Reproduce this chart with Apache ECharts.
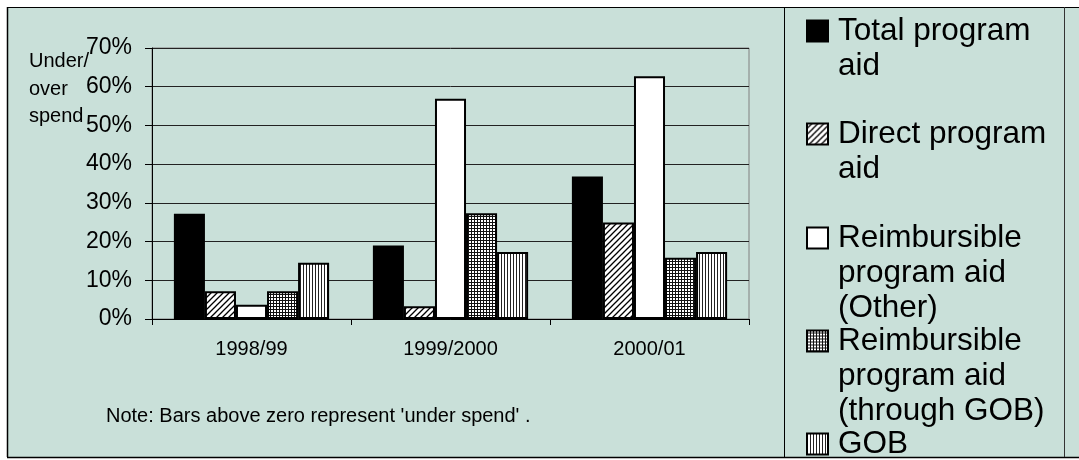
<!DOCTYPE html>
<html>
<head>
<meta charset="utf-8">
<script src="https://cdn.jsdelivr.net/npm/echarts@6/dist/echarts.min.js"></script>
<style>
html,body{margin:0;padding:0;background:#fff;}
#chart{width:1079px;height:460px;}
</style>
</head>
<body>
<div id="chart"></div>
<script>
// ---- data ----
var categories = ['1998/99', '1999/2000', '2000/01'];
var seriesNames = ['Total program aid', 'Direct program aid', 'Reimbursible program aid (Other)', 'Reimbursible program aid (through GOB)', 'GOB'];
var legendLabels = ['Total program\naid', 'Direct program\naid', 'Reimbursible\nprogram aid\n(Other)', 'Reimbursible\nprogram aid\n(through GOB)', 'GOB'];
var totalProgramAid = [27.2, 19.0, 36.8];
var directProgramAid = [7.2, 3.3, 24.9];
var reimbOther = [3.7, 56.9, 62.7];
var reimbGOB = [7.2, 27.3, 15.8];
var gob = [14.5, 17.3, 17.3];
var yTicks = { min: 0, max: 70, interval: 10 };
var yTitle = 'Under/\nover\nspend';
var noteText = "Note: Bars above zero represent 'under spend' .";

// ---- patterns ----
function makePattern(kind) {
  var c = document.createElement('canvas');
  var ctx;
  if (kind === 'diag') {
    c.width = 6; c.height = 6; ctx = c.getContext('2d');
    ctx.fillStyle = '#fff'; ctx.fillRect(0, 0, 6, 6);
    ctx.strokeStyle = '#000'; ctx.lineWidth = 1.3;
    ctx.beginPath();
    ctx.moveTo(0, 6); ctx.lineTo(6, 0);
    ctx.moveTo(-3, 3); ctx.lineTo(3, -3);
    ctx.moveTo(3, 9); ctx.lineTo(9, 3);
    ctx.stroke();
  } else if (kind === 'grid') {
    c.width = 3; c.height = 3; ctx = c.getContext('2d');
    ctx.fillStyle = '#fff'; ctx.fillRect(0, 0, 3, 3);
    ctx.fillStyle = '#111'; ctx.fillRect(0, 0, 3, 1); ctx.fillRect(0, 0, 1, 3);
  } else if (kind === 'vert') {
    c.width = 3; c.height = 3; ctx = c.getContext('2d');
    ctx.fillStyle = '#fff'; ctx.fillRect(0, 0, 3, 3);
    ctx.fillStyle = '#222'; ctx.fillRect(0, 0, 1, 3);
  }
  return { image: c, repeat: 'repeat' };
}

var fills = ['#000000', makePattern('diag'), '#ffffff', makePattern('grid'), makePattern('vert')];
var values = [totalProgramAid, directProgramAid, reimbOther, reimbGOB, gob];

var FONT = "'Liberation Sans', Arial, sans-serif";
var BG = '#C9E0D9';

var series = seriesNames.map(function (n, i) {
  return {
    name: n,
    type: 'bar',
    data: values[i],
    barGap: '0%',
    barCategoryGap: '22%',
    itemStyle: { color: fills[i], borderColor: '#000', borderWidth: 2 },
    emphasis: { disabled: true }
  };
});

// legend layout: centre of each entry's first line
var legendCentres = [30, 133, 237, 340, 443];
var LH = 35;
var ICON = 21;
var ICON_BOX = 26;
var legends = seriesNames.map(function (n, i) {
  var lines = legendLabels[i].split('\n').length;
  var h = lines * LH;
  var y0 = (LH - ICON) / 2;
  // square sits beside the first line; the extra move-tos keep the icon box as tall as the text
  var iconPath = 'path://M0,0 M0,' + y0 + ' h' + ICON + ' v' + ICON + ' h-' + ICON + ' Z M' + ICON_BOX + ',' + h;
  return {
    data: [{ name: n, icon: iconPath }],
    orient: 'vertical',
    left: 806,
    top: legendCentres[i] - LH / 2,
    padding: 0,
    itemGap: 0,
    itemWidth: ICON_BOX,
    itemHeight: h,
    selectedMode: false,
    formatter: function () { return legendLabels[i]; },
    textStyle: { fontFamily: FONT, fontSize: 31.5, lineHeight: LH, color: '#000' }
  };
});

var chart = echarts.init(document.getElementById('chart'), null, { renderer: 'canvas' });
chart.setOption({
  backgroundColor: '#ffffff',
  animation: false,
  textStyle: { fontFamily: FONT },
  graphic: [
    { type: 'rect', z: -10, shape: { x: 7, y: 7, width: 1072, height: 450 }, style: { fill: BG } },
    { type: 'line', z: -5, shape: { x1: 7, y1: 7.5, x2: 1079, y2: 7.5 }, style: { stroke: '#000', lineWidth: 1 } },
    { type: 'line', z: -5, shape: { x1: 7.5, y1: 7, x2: 7.5, y2: 457 }, style: { stroke: '#000', lineWidth: 1.5 } },
    { type: 'line', z: -5, shape: { x1: 7, y1: 457.5, x2: 1079, y2: 457.5 }, style: { stroke: '#000', lineWidth: 1.5 } },
    { type: 'line', z: -5, shape: { x1: 784.5, y1: 7, x2: 784.5, y2: 457 }, style: { stroke: '#000', lineWidth: 1 } },
    { type: 'line', z: -5, shape: { x1: 1064.5, y1: 7, x2: 1064.5, y2: 457 }, style: { stroke: '#333', lineWidth: 1 } },
    { type: 'text', left: 29, top: 48, style: { text: yTitle, font: '20px ' + FONT, lineHeight: 27.5, fill: '#000' } },
    { type: 'text', left: 106, top: 406, style: { text: noteText, font: '20px ' + FONT, fill: '#000' } }
  ],
  legend: legends,
  grid: {
    left: 152, right: 330, top: 48, bottom: 141,
    show: true, borderColor: '#808080', borderWidth: 1, backgroundColor: 'transparent'
  },
  xAxis: {
    type: 'category',
    data: categories,
    axisLine: { show: true, lineStyle: { color: '#000', width: 1 } },
    axisTick: { show: true, alignWithLabel: false, length: 6, lineStyle: { color: '#000' } },
    axisLabel: { fontSize: 20, color: '#000', margin: 20, fontFamily: FONT },
    splitLine: { show: false }
  },
  yAxis: {
    type: 'value',
    min: yTicks.min, max: yTicks.max, interval: yTicks.interval,
    axisLine: { show: true, lineStyle: { color: '#000', width: 1 } },
    axisTick: { show: true, length: 7, lineStyle: { color: '#000' } },
    axisLabel: { fontSize: 23, color: '#000', margin: 20, formatter: '{value}%', fontFamily: FONT },
    splitLine: { show: true, lineStyle: { color: '#222', width: 1 } }
  },
  series: series
});
</script>
</body>
</html>
